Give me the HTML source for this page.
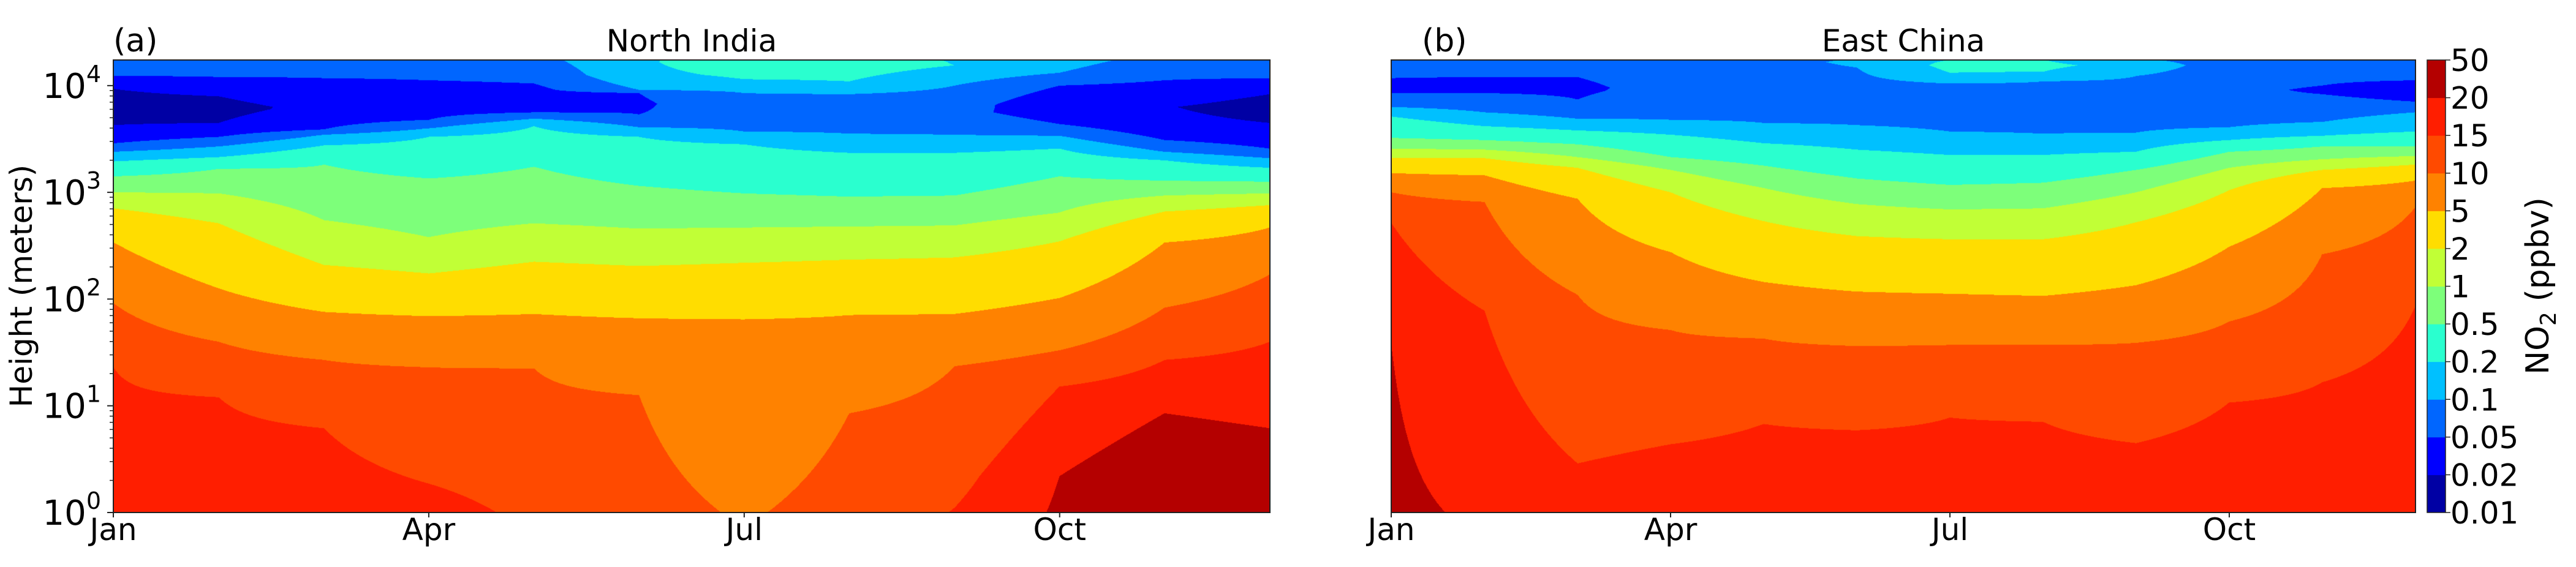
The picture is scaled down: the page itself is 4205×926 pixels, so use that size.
<!DOCTYPE html>
<html>
<head>
<meta charset="utf-8">
<style>
  html,body{margin:0;padding:0;background:#fff;}
  #root{position:relative;width:4205px;height:926px;overflow:hidden;background:#fff;}
  canvas{position:absolute;}
  svg{position:absolute;left:0;top:0;}
  text{font-family:"DejaVu Sans","Liberation Sans",sans-serif;fill:#000;}
</style>
</head>
<body>
<div id="root">
  <canvas id="cvA"></canvas>
  <canvas id="cvB"></canvas>
  <svg id="ov" width="4205" height="926"></svg>
</div>
<script>
// ---- data ----
const months = ['Jan','Feb','Mar','Apr','May','Jun','Jul','Aug','Sep','Oct','Nov','Dec'];
const monthTicks = [0, 3, 6, 9];
const monthTickLabels = ['Jan','Apr','Jul','Oct'];
const levels = [0.01,0.02,0.05,0.1,0.2,0.5,1,2,5,10,15,20,50];
const levelLabels = ['0.01','0.02','0.05','0.1','0.2','0.5','1','2','5','10','15','20','50'];
const bandColors = ['#0000a4','#0000ff','#0066ff','#00c0ff','#2affcf','#7dff7a','#c1ff36','#ffdd00','#ff8200','#ff4a00','#ff1e00','#b40000'];
const yTickExps = [0,1,2,3,4];
// profiles: [log10(height m), NO2 ppbv] knots per month
const indiaProfiles = [
 [[0,18],[1.36,15],[1.96,10],[2.53,5],[2.85,2],[3.0,1],[3.15,0.5],[3.29,0.2],[3.38,0.1],[3.46,0.05],[3.63,0.02],[3.8,0.013],[3.97,0.02],[4.09,0.05],[4.3,0.07]],
 [[0,18.5],[1.08,15],[1.6,10],[2.1,5],[2.71,2],[2.99,1],[3.22,0.5],[3.33,0.2],[3.43,0.1],[3.52,0.05],[3.65,0.02],[3.78,0.015],[3.9,0.02],[4.08,0.05],[4.3,0.07]],
 [[0,17.5],[0.79,15],[1.43,10],[1.88,5],[2.32,2],[2.74,1],[3.26,0.5],[3.44,0.2],[3.54,0.1],[3.59,0.05],[3.8,0.025],[4.07,0.05],[4.3,0.07]],
 [[0,17],[0.27,15],[1.36,10],[1.84,5],[2.24,2],[2.58,1],[3.13,0.5],[3.52,0.2],[3.6,0.1],[3.68,0.05],[3.85,0.03],[4.05,0.05],[4.3,0.07]],
 [[0,14],[1.35,10],[1.86,5],[2.35,2],[2.71,1],[3.24,0.5],[3.62,0.2],[3.69,0.1],[3.75,0.05],[3.9,0.035],[4.02,0.05],[4.3,0.09]],
 [[0,12],[1.1,10],[1.82,5],[2.31,2],[2.66,1],[3.06,0.5],[3.52,0.2],[3.61,0.1],[3.73,0.05],[3.83,0.045],[3.93,0.05],[3.96,0.1],[4.1,0.17],[4.3,0.19]],
 [[0,9.5],[1.81,5],[2.34,2],[2.67,1],[2.99,0.5],[3.45,0.2],[3.57,0.1],[3.75,0.07],[3.93,0.1],[4.06,0.2],[4.22,0.3],[4.3,0.22]],
 [[0,12],[0.93,10],[1.85,5],[2.37,2],[2.68,1],[2.96,0.5],[3.37,0.2],[3.55,0.1],[3.75,0.07],[3.92,0.1],[4.04,0.2],[4.22,0.3],[4.3,0.22]],
 [[0,15.2],[1.37,10],[1.86,5],[2.39,2],[2.69,1],[2.97,0.5],[3.37,0.2],[3.54,0.1],[3.75,0.06],[4.0,0.1],[4.19,0.2],[4.3,0.18]],
 [[0,20.8],[0.34,20],[1.18,15],[1.52,10],[2.01,5],[2.54,2],[2.81,1],[3.15,0.5],[3.41,0.2],[3.53,0.1],[3.64,0.05],[3.82,0.03],[4.0,0.05],[4.12,0.1],[4.3,0.15]],
 [[0,28],[0.93,20],[1.43,15],[1.92,10],[2.53,5],[2.82,2],[2.97,1],[3.11,0.5],[3.3,0.2],[3.38,0.1],[3.49,0.05],[3.65,0.025],[3.8,0.021],[4.05,0.05],[4.3,0.09]],
 [[0,26],[0.79,20],[1.6,15],[2.23,10],[2.67,5],[2.88,2],[2.99,1],[3.1,0.5],[3.23,0.2],[3.32,0.1],[3.41,0.05],[3.65,0.02],[3.8,0.014],[3.92,0.02],[4.07,0.05],[4.3,0.07]]
];
const chinaProfiles = [
 [[0,21],[1.56,20],[2.71,15],[3.0,10],[3.18,5],[3.32,2],[3.41,1],[3.51,0.5],[3.71,0.2],[3.8,0.1],[3.93,0.05],[4.0,0.04],[4.07,0.05],[4.3,0.07]],
 [[0,19.3],[1.89,15],[2.91,10],[3.16,5],[3.32,2],[3.4,1],[3.49,0.5],[3.62,0.2],[3.75,0.1],[3.93,0.05],[4.0,0.04],[4.08,0.05],[4.3,0.07]],
 [[0,18],[0.46,15],[2.04,10],[2.94,5],[3.23,2],[3.33,1],[3.45,0.5],[3.58,0.2],[3.69,0.1],[3.87,0.05],[3.98,0.045],[4.08,0.05],[4.3,0.07]],
 [[0,18],[0.64,15],[1.71,10],[2.44,5],[3.0,2],[3.21,1],[3.33,0.5],[3.54,0.2],[3.68,0.1],[3.95,0.06],[4.3,0.07]],
 [[0,18],[0.83,15],[1.63,10],[2.16,5],[2.73,2],[3.04,1],[3.25,0.5],[3.46,0.2],[3.65,0.1],[3.95,0.065],[4.3,0.07]],
 [[0,18],[0.77,15],[1.56,10],[2.07,5],[2.59,2],[2.89,1],[3.13,0.5],[3.4,0.2],[3.63,0.1],[3.9,0.07],[4.17,0.1],[4.22,0.12],[4.26,0.1],[4.3,0.08]],
 [[0,18],[0.89,15],[1.57,10],[2.05,5],[2.56,2],[2.84,1],[3.07,0.5],[3.35,0.2],[3.57,0.1],[3.8,0.07],[4.02,0.1],[4.12,0.2],[4.19,0.24],[4.245,0.2],[4.3,0.08]],
 [[0,18],[0.85,15],[1.57,10],[2.03,5],[2.56,2],[2.85,1],[3.09,0.5],[3.35,0.2],[3.55,0.1],[3.8,0.07],[4.04,0.1],[4.13,0.2],[4.19,0.23],[4.245,0.2],[4.3,0.08]],
 [[0,18],[0.65,15],[1.59,10],[2.13,5],[2.72,2],[3.0,1],[3.21,0.5],[3.38,0.2],[3.56,0.1],[3.8,0.065],[4.09,0.1],[4.19,0.16],[4.26,0.1],[4.3,0.08]],
 [[0,19],[1.03,15],[1.79,10],[2.49,5],[3.02,2],[3.23,1],[3.38,0.5],[3.49,0.2],[3.61,0.1],[3.85,0.055],[3.95,0.06],[4.3,0.07]],
 [[0,19],[1.22,15],[2.42,10],[3.04,5],[3.21,2],[3.31,1],[3.43,0.5],[3.53,0.2],[3.66,0.1],[3.92,0.05],[3.96,0.045],[4.0,0.05],[4.3,0.07]],
 [[0,19],[1.93,15],[2.86,10],[3.11,5],[3.26,2],[3.34,1],[3.43,0.5],[3.57,0.2],[3.75,0.1],[3.85,0.05],[3.95,0.035],[4.05,0.05],[4.3,0.07]]
];

// ---- layout ----
const PT = 98, PB = 837, HTOP = 4.24;
const panelA = {x0:185, x1:2073};
const panelB = {x0:2271, x1:3943};
const CB = {x0:3962, x1:3992};
function yScale(h){ return PB - (h/HTOP)*(PB-PT); }
function xScale(p, m){ return p.x0 + m/11*(p.x1-p.x0); }
const logLevels = levels.map(v=>Math.log10(v));

function profileAt(prof, h){
  if(h<=prof[0][0]) return Math.log10(prof[0][1]);
  for(let i=1;i<prof.length;i++){
    if(h<=prof[i][0]){
      const a=prof[i-1], b=prof[i];
      const t=(h-a[0])/(b[0]-a[0]);
      return Math.log10(a[1])*(1-t)+Math.log10(b[1])*t;
    }
  }
  return Math.log10(prof[prof.length-1][1]);
}
function hexRGB(c){ return [parseInt(c.substr(1,2),16),parseInt(c.substr(3,2),16),parseInt(c.substr(5,2),16)]; }
const rgb = bandColors.map(hexRGB);

function renderPanel(id, p, profiles){
  const cv=document.getElementById(id);
  const W=p.x1-p.x0, H=PB-PT;
  cv.width=W; cv.height=H;
  cv.style.left=p.x0+'px'; cv.style.top=PT+'px';
  const ctx=cv.getContext('2d');
  const img=ctx.createImageData(W,H);
  const cols=profiles.map(pr=>{
    const arr=new Float32Array(H);
    for(let y=0;y<H;y++){ arr[y]=profileAt(pr, HTOP*(1-(y+0.5)/H)); }
    return arr;
  });
  for(let x=0;x<W;x++){
    const m=x/(W-1)*11;
    let i=Math.floor(m); if(i>10) i=10;
    const f=m-i;
    const A=cols[i], B=cols[i+1];
    for(let y=0;y<H;y++){
      const lv=A[y]*(1-f)+B[y]*f;
      let k=0;
      while(k<11 && lv>=logLevels[k+1]) k++;
      const c=rgb[k]; const o=(y*W+x)*4;
      img.data[o]=c[0]; img.data[o+1]=c[1]; img.data[o+2]=c[2]; img.data[o+3]=255;
    }
  }
  ctx.putImageData(img,0,0);
}
renderPanel('cvA', panelA, indiaProfiles);
renderPanel('cvB', panelB, chinaProfiles);

// ---- overlay ----
const NS='http://www.w3.org/2000/svg';
const svg=document.getElementById('ov');
function mk(tag, attrs, parent){
  const e=document.createElementNS(NS,tag);
  for(const k in attrs) e.setAttribute(k, attrs[k]);
  (parent||svg).appendChild(e); return e;
}
function drawFrame(p, name){
  const r=mk('rect',{x:p.x0,y:PT,width:p.x1-p.x0,height:PB-PT,fill:'none',stroke:'#222','stroke-width':2});
  
  
  monthTicks.forEach((m,i)=>{
    const x=xScale(p,m);
    mk('line',{x1:x,y1:PB,x2:x,y2:PB+8,stroke:'#222','stroke-width':2});
    const t=mk('text',{x:x,y:882,'font-size':50,'text-anchor':'middle'});
    t.textContent=monthTickLabels[i];
    
    
  });
}
drawFrame(panelA,'north-india-axes');
drawFrame(panelB,'east-china-axes');

// y ticks (panel a)
yTickExps.forEach(e=>{
  const y=yScale(e);
  mk('line',{x1:panelA.x0-10,y1:y,x2:panelA.x0,y2:y,stroke:'#222','stroke-width':2});
  const t=mk('text',{x:panelA.x0-20,y:y+20,'font-size':56,'text-anchor':'end'});
  
  
  const a=mk('tspan',{},t); a.textContent='10';
  const b=mk('tspan',{dy:-26,'font-size':38},t); b.textContent=String(e);
  for(let k=2;k<10;k++){ const yy=yScale(e+Math.log10(k)); if(yy<PT) break;
    mk('line',{x1:panelA.x0-6,y1:yy,x2:panelA.x0,y2:yy,stroke:'#222','stroke-width':1.5}); }
});
const yt=mk('text',{x:0,y:0,'font-size':50,'text-anchor':'middle',transform:'translate(52,467) rotate(-90)'});
yt.textContent='Height (meters)';



// titles
[[panelA,'North India','(a)'],[panelB,'East China','(b)']].forEach(([p,ttl,lab])=>{
  const t=mk('text',{x:(p.x0+p.x1)/2,y:84,'font-size':50,'text-anchor':'middle'});
  t.textContent=ttl;
  
  
  const l=mk('text',{x:p.x0+(lab==='(b)'?50:0),y:84,'font-size':52});
  l.textContent=lab;
  
  
});

// colorbar
const cbH=(PB-PT)/12;
bandColors.forEach((c,i)=>{
  const r=mk('rect',{x:CB.x0,y:PB-(i+1)*cbH,width:CB.x1-CB.x0,height:cbH+0.5,fill:c});
  
  
});
mk('rect',{x:CB.x0,y:PT,width:CB.x1-CB.x0,height:PB-PT,fill:'none',stroke:'#222','stroke-width':1.5});
levelLabels.forEach((s,i)=>{
  const y=PB-i*cbH;
  mk('line',{x1:CB.x1,y1:y,x2:CB.x1+8,y2:y,stroke:'#222','stroke-width':1.5});
  const t=mk('text',{x:CB.x1+8,y:y+18,'font-size':50});
  t.textContent=s;
  
  
});
const ct=mk('text',{x:0,y:0,'font-size':52,'text-anchor':'middle',transform:'translate(4160,467) rotate(-90)'});


const c1=mk('tspan',{},ct); c1.textContent='NO';
const c2=mk('tspan',{dy:12,'font-size':36},ct); c2.textContent='2';
const c3=mk('tspan',{dy:-12},ct); c3.textContent='  (ppbv)';
</script>
</body>
</html>
